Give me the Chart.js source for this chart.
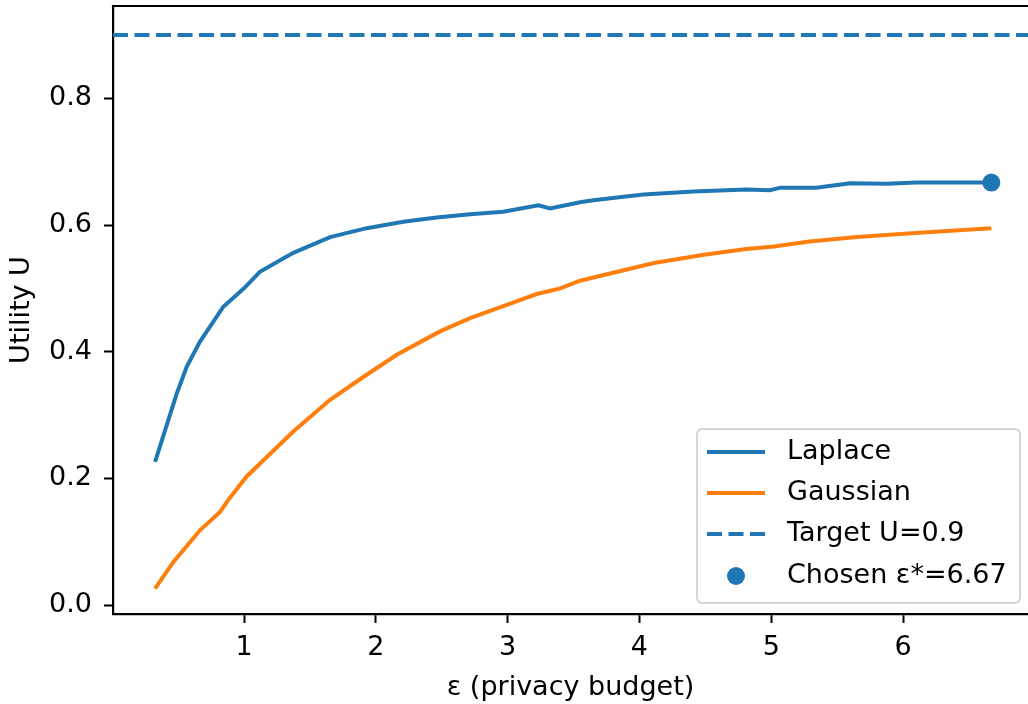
<!DOCTYPE html>
<html><head><meta charset="utf-8">
<script src="https://cdn.jsdelivr.net/npm/chart.js@4/dist/chart.umd.min.js"></script>
<style>html,body{margin:0;padding:0;background:#fff}#wrap{width:1028px;height:704px}</style>
</head><body><div id="wrap"><canvas id="c" width="1028" height="704"></canvas></div>
<script>
const lapEps = [0.325, 0.49, 0.565, 0.666, 0.843, 1.0, 1.12, 1.374, 1.653, 1.931, 2.209, 2.462, 2.715, 2.967, 3.233, 3.322, 3.549, 3.65, 4.03, 4.41, 4.81, 4.99, 5.07, 5.34, 5.60, 5.88, 6.10, 6.36, 6.67];
const lapU   = [0.226, 0.334, 0.376, 0.416, 0.471, 0.500, 0.526, 0.556, 0.581, 0.595, 0.605, 0.612, 0.617, 0.621, 0.631, 0.626, 0.636, 0.639, 0.648, 0.653, 0.656, 0.655, 0.659, 0.659, 0.666, 0.665, 0.667, 0.667, 0.667];
const gauEps = [0.325, 0.464, 0.666, 0.818, 0.881, 1.02, 1.374, 1.653, 1.905, 2.159, 2.487, 2.715, 2.967, 3.221, 3.40, 3.549, 3.73, 4.11, 4.49, 4.81, 5.02, 5.29, 5.65, 6.15, 6.67];
const gauU   = [0.026, 0.068, 0.118, 0.147, 0.166, 0.203, 0.274, 0.324, 0.360, 0.395, 0.432, 0.453, 0.472, 0.491, 0.500, 0.512, 0.521, 0.540, 0.553, 0.562, 0.566, 0.574, 0.581, 0.588, 0.595];
const targetU = 0.9;
const chosenEps = 6.67;
const chosenU = 0.667;
const xTicks = [1, 2, 3, 4, 5, 6];
const yTicks = [0.0, 0.2, 0.4, 0.6, 0.8];
const X_MIN = 0.006, X_MAX = 6.948, Y_MIN = -0.0142, Y_MAX = 0.9458;

const BLUE = '#1f77b4', ORANGE = '#ff7f0e';
const FONT = "'DejaVu Sans', sans-serif";
const FS = 27;

const pts = (xs, ys) => xs.map((x, i) => ({x: x, y: ys[i]}));

const framePlugin = {
  id: 'frame',
  afterDraw(chart) {
    const ctx = chart.ctx, a = chart.chartArea;
    ctx.save();
    ctx.strokeStyle = '#000';
    ctx.lineWidth = 2.2;
    ctx.beginPath();
    ctx.moveTo(a.left - 1.1, a.top);
    ctx.lineTo(a.right, a.top);
    ctx.stroke();
    // legend
    const bx = 697, by = 429, bw = 323, bh = 174, r = 6;
    ctx.fillStyle = 'rgba(255,255,255,0.85)';
    ctx.strokeStyle = '#d6d6d6';
    ctx.lineWidth = 2;
    ctx.beginPath();
    ctx.moveTo(bx + r, by);
    ctx.lineTo(bx + bw - r, by); ctx.quadraticCurveTo(bx + bw, by, bx + bw, by + r);
    ctx.lineTo(bx + bw, by + bh - r); ctx.quadraticCurveTo(bx + bw, by + bh, bx + bw - r, by + bh);
    ctx.lineTo(bx + r, by + bh); ctx.quadraticCurveTo(bx, by + bh, bx, by + bh - r);
    ctx.lineTo(bx, by + r); ctx.quadraticCurveTo(bx, by, bx + r, by);
    ctx.closePath();
    ctx.fill(); ctx.stroke();
    const rows = [452, 493, 534, 576];
    chart.data.datasets.forEach((ds, i) => {
      const y = rows[i];
      ctx.save();
      if (ds.showLine === false) {
        ctx.fillStyle = ds.backgroundColor;
        ctx.beginPath(); ctx.arc(736, y, ds.pointRadius, 0, Math.PI * 2); ctx.fill();
      } else {
        ctx.strokeStyle = ds.borderColor;
        ctx.lineWidth = ds.borderWidth;
        ctx.setLineDash(ds.borderDash || []);
        ctx.beginPath(); ctx.moveTo(707, y); ctx.lineTo(765, y); ctx.stroke();
      }
      ctx.restore();
      ctx.fillStyle = '#000';
      ctx.font = FS + 'px ' + FONT;
      ctx.textBaseline = 'middle';
      ctx.textAlign = 'left';
      ctx.fillText(ds.label, 787, y);
    });
    ctx.restore();
  }
};

new Chart(document.getElementById('c'), {
  type: 'line',
  data: {
    datasets: [
      {label: 'Laplace', data: pts(lapEps, lapU), borderColor: BLUE, backgroundColor: BLUE, borderWidth: 4, pointRadius: 0, tension: 0, fill: false, order: 4},
      {label: 'Gaussian', data: pts(gauEps, gauU), borderColor: ORANGE, backgroundColor: ORANGE, borderWidth: 4, pointRadius: 0, tension: 0, fill: false, order: 3},
      {label: 'Target U=0.9', data: [{x: X_MIN, y: targetU}, {x: X_MAX, y: targetU}], borderColor: BLUE, backgroundColor: BLUE, borderWidth: 4, borderDash: [15, 6.5], pointRadius: 0, fill: false, order: 2},
      {label: 'Chosen ε*=6.67', data: [{x: chosenEps, y: chosenU}], showLine: false, borderColor: BLUE, backgroundColor: BLUE, borderWidth: 0, pointRadius: 9, pointHoverRadius: 9, order: 1}
    ]
  },
  options: {
    responsive: false,
    devicePixelRatio: 1,
    animation: false,
    layout: {autoPadding: false, padding: {top: 6, left: 0, right: 0, bottom: 0}},
    font: {family: FONT, size: FS},
    plugins: {legend: {display: false}, tooltip: {enabled: false}},
    scales: {
      x: {
        type: 'linear', min: X_MIN, max: X_MAX,
        afterBuildTicks: s => { s.ticks = xTicks.map(v => ({value: v})); },
        afterFit: s => { s.height = 90; s.paddingLeft = 0; s.paddingRight = 0; },
        ticks: {color: '#000', padding: 9, autoSkip: false, maxRotation: 0, font: {family: FONT, size: FS}, callback: v => String(v)},
        grid: {drawOnChartArea: false, drawTicks: true, tickLength: 9, tickWidth: 2, tickColor: '#000'},
        border: {display: true, color: '#000', width: 2.2},
        title: {display: true, text: 'ε (privacy budget)', color: '#000', font: {family: FONT, size: FS}, padding: {top: 0, bottom: 0}}
      },
      y: {
        type: 'linear', min: Y_MIN, max: Y_MAX,
        afterBuildTicks: s => { s.ticks = yTicks.map(v => ({value: v})); },
        afterFit: s => { s.width = 113; s.paddingTop = 0; s.paddingBottom = 0; },
        ticks: {color: '#000', padding: 12, autoSkip: false, font: {family: FONT, size: FS}, callback: v => Number(v).toFixed(1)},
        grid: {drawOnChartArea: false, drawTicks: true, tickLength: 9, tickWidth: 2, tickColor: '#000'},
        border: {display: true, color: '#000', width: 2.2},
        title: {display: true, text: 'Utility U', color: '#000', font: {family: FONT, size: FS}, padding: {top: 6, bottom: 0}}
      }
    }
  },
  plugins: [framePlugin]
});
</script></body></html>
